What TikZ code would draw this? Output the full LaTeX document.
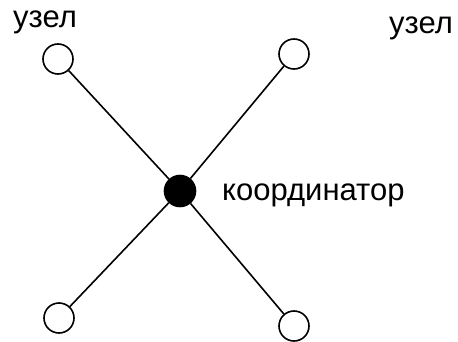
\documentclass[tikz,border=0pt]{standalone}
\usepackage{fontspec}
\setmainfont{Liberation Sans}
\begin{document}
\begin{tikzpicture}[x=1pt,y=1pt,
  dev/.style={circle,draw,line width=1.6pt,minimum size=30pt,inner sep=0pt,fill=white},
  coord/.style={circle,draw,line width=1.6pt,minimum size=31pt,inner sep=0pt,fill=black},
  lbl/.style={font=\fontsize{31}{34}\selectfont,inner sep=0pt,anchor=base west},
  link/.style={line width=1.6pt}]
\useasboundingbox (0,0) rectangle (458,341);
\node[coord] (c) at (180,150) {};
\node[dev] (tl) at (58,282) {};
\node[dev] (tr) at (294,287) {};
\node[dev] (bl) at (59,23) {};
\node[dev] (br) at (294,15) {};
\draw[link] (c) -- (tl);
\draw[link] (c) -- (tr);
\draw[link] (c) -- (bl);
\draw[link] (c) -- (br);
\node[lbl] (l1) at (13,313) {узел};
\node[lbl] (l2) at (389,308) {узел};
\begin{scope}
\clip (0,0) rectangle (407,341);
\node[lbl] (l3) at (222,141) {координатор};
\end{scope}
\end{tikzpicture}
\end{document}
